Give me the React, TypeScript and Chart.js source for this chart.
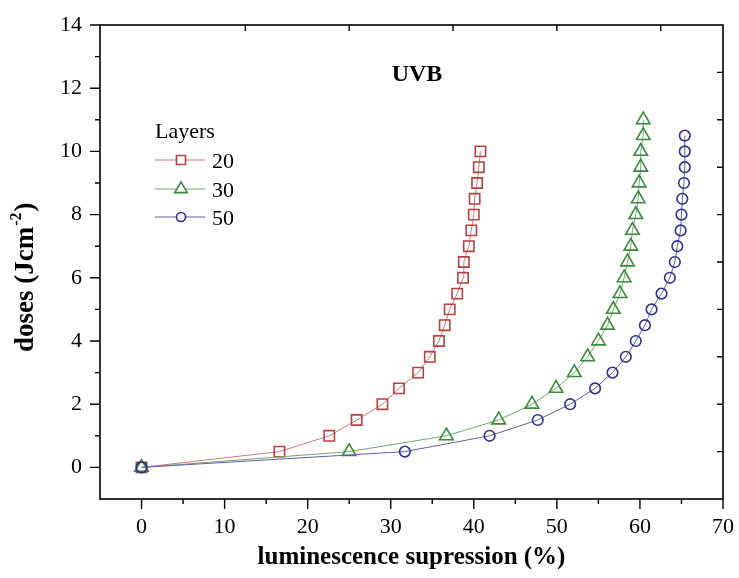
import React, { useEffect, useRef } from "react";
import { Chart, registerables } from "chart.js";

Chart.register(...registerables);

// ---- data ----
const layer20Supp = [0, 16.6, 22.6, 25.9, 29.0, 31.0, 33.3, 34.7, 35.8, 36.5, 37.1, 38.0, 38.7, 38.8, 39.4, 39.7, 40.0, 40.1, 40.4, 40.6, 40.8];
const layer20Dose = [0, 0.5, 1.0, 1.5, 2.0, 2.5, 3.0, 3.5, 4.0, 4.5, 5.0, 5.5, 6.0, 6.5, 7.0, 7.5, 8.0, 8.5, 9.0, 9.5, 10.0];

const layer30Supp = [0, 25.0, 36.7, 43.0, 47.0, 49.9, 52.1, 53.7, 55.0, 56.1, 56.8, 57.6, 58.1, 58.5, 58.9, 59.1, 59.5, 59.8, 59.9, 60.1, 60.1, 60.4, 60.4];
const layer30Dose = [0, 0.5, 1.0, 1.5, 2.0, 2.5, 3.0, 3.5, 4.0, 4.5, 5.0, 5.5, 6.0, 6.5, 7.0, 7.5, 8.0, 8.5, 9.0, 9.5, 10.0, 10.5, 11.0];

const layer50Supp = [0, 31.7, 41.9, 47.7, 51.6, 54.6, 56.7, 58.3, 59.5, 60.6, 61.4, 62.6, 63.6, 64.2, 64.5, 64.9, 65.0, 65.1, 65.3, 65.4, 65.4, 65.4];
const layer50Dose = [0, 0.5, 1.0, 1.5, 2.0, 2.5, 3.0, 3.5, 4.0, 4.5, 5.0, 5.5, 6.0, 6.5, 7.0, 7.5, 8.0, 8.5, 9.0, 9.5, 10.0, 10.5];

const seriesLabels = ["20", "30", "50"];
const legendTitle = "Layers";
const panelLabel = "UVB";
const xTitle = "luminescence supression (%)";
const yTitleMain = "doses (Jcm";
const yTitleSup = "-2";
const yTitleEnd = ")";

const xTickValues = [0, 10, 20, 30, 40, 50, 60, 70];
const yTickValues = [0, 2, 4, 6, 8, 10, 12, 14];
const bottomTickValues = [0, 5, 10, 15, 20, 25, 30, 35, 40, 45, 50, 55, 60, 65, 70];
const leftTickValues = [0, 1, 2, 3, 4, 5, 6, 7, 8, 9, 10, 11, 12, 13, 14];
const rightTickValues = [0.5, 2, 3.5, 5, 6.5, 8, 9.5, 11, 12.5];
const topTickValues = [12.5, 25, 37.5, 50, 62.5];

// ---- styles ----
const markerColors = ["#b84040", "#3a8a3a", "#30308a"];
const lineColors = ["#cc7a7a", "#70a870", "#60609e"];
const pointStyles = ["rect", "triangle", "circle"];
const pointRadii = [7.3, 7.8, 5.3];

const SERIF = '"Liberation Serif", "Times New Roman", serif';

function toPoints(xs: number[], ys: number[]) {
  return xs.map((x, i) => ({ x, y: ys[i] }));
}

function drawMarker(ctx: CanvasRenderingContext2D, style: string, x: number, y: number, size: number) {
  ctx.beginPath();
  if (style === "rect") {
    ctx.rect(x - size, y - size, size * 2, size * 2);
  } else if (style === "triangle") {
    const r = size * 1.6;
    ctx.moveTo(x, y - r);
    ctx.lineTo(x + r * 0.866, y + r * 0.5);
    ctx.lineTo(x - r * 0.866, y + r * 0.5);
    ctx.closePath();
  } else {
    ctx.arc(x, y, size, 0, Math.PI * 2);
  }
  ctx.fill();
  ctx.stroke();
}

const decorPlugin = {
  id: "decor",
  afterDraw(chart: any) {
    const { ctx, chartArea: a, scales } = chart;
    const xs = scales.x;
    const ys = scales.y;
    ctx.save();
    // frame
    ctx.strokeStyle = "#000";
    ctx.lineWidth = 1.6;
    ctx.strokeRect(a.left, a.top, a.right - a.left, a.bottom - a.top);

    ctx.lineWidth = 1.4;
    ctx.beginPath();
    leftTickValues.forEach((v) => {
      const y = ys.getPixelForValue(v);
      const len = v % 2 === 0 ? 10 : 5;
      ctx.moveTo(a.left - len, y);
      ctx.lineTo(a.left, y);
    });
    bottomTickValues.forEach((v) => {
      const x = xs.getPixelForValue(v);
      const len = v % 10 === 0 ? 10 : 5;
      ctx.moveTo(x, a.bottom);
      ctx.lineTo(x, a.bottom + len);
    });
    rightTickValues.forEach((v) => {
      const y = ys.getPixelForValue(v);
      ctx.moveTo(a.right, y);
      ctx.lineTo(a.right - 6, y);
    });
    topTickValues.forEach((v) => {
      const x = xs.getPixelForValue(v);
      ctx.moveTo(x, a.top);
      ctx.lineTo(x, a.top + 6);
    });
    ctx.stroke();

    // x title
    ctx.fillStyle = "#000";
    ctx.font = `bold 25px ${SERIF}`;
    ctx.textAlign = "center";
    ctx.textBaseline = "alphabetic";
    ctx.fillText(xTitle, (a.left + a.right) / 2, 564);

    // y title (rotated, with superscript)
    ctx.save();
    ctx.translate(33, 352);
    ctx.rotate(-Math.PI / 2);
    ctx.textAlign = "left";
    ctx.font = `bold 27px ${SERIF}`;
    ctx.fillText(yTitleMain, 0, 0);
    const w1 = ctx.measureText(yTitleMain).width;
    ctx.font = `bold 16px ${SERIF}`;
    ctx.fillText(yTitleSup, w1 + 1, -12);
    const w2 = ctx.measureText(yTitleSup).width;
    ctx.font = `bold 27px ${SERIF}`;
    ctx.fillText(yTitleEnd, w1 + w2 + 2, 0);
    ctx.restore();

    // panel label
    ctx.font = `bold 24px ${SERIF}`;
    ctx.textAlign = "center";
    ctx.fillText(panelLabel, 417, 81);

    // legend
    ctx.textAlign = "left";
    ctx.font = `22px ${SERIF}`;
    ctx.fillText(legendTitle, 155, 138);
    const rows = [160, 189, 217];
    seriesLabels.forEach((lab, i) => {
      const y = rows[i];
      ctx.strokeStyle = lineColors[i];
      ctx.lineWidth = 1.2;
      ctx.beginPath();
      ctx.moveTo(155, y);
      ctx.lineTo(205, y);
      ctx.stroke();
      ctx.strokeStyle = markerColors[i];
      ctx.fillStyle = "#fff";
      ctx.lineWidth = 1.6;
      drawMarker(ctx, pointStyles[i], 181, y, 4.5);
      ctx.fillStyle = "#000";
      ctx.fillText(lab, 212, y + 7.5);
    });
    ctx.restore();
  },
};

export default function App() {
  const ref = useRef<HTMLCanvasElement | null>(null);

  useEffect(() => {
    if (!ref.current) return;
    const series = [
      toPoints(layer20Supp, layer20Dose),
      toPoints(layer30Supp, layer30Dose),
      toPoints(layer50Supp, layer50Dose),
    ];
    const chart = new Chart(ref.current, {
      type: "line",
      data: {
        datasets: series.map((pts, i) => ({
          label: seriesLabels[i],
          data: pts,
          borderColor: lineColors[i],
          borderWidth: 1,
          tension: 0,
          fill: false,
          pointStyle: pointStyles[i] as any,
          pointRadius: pointRadii[i],
          pointBorderColor: markerColors[i],
          pointBackgroundColor: "rgba(255,255,255,0)",
          pointBorderWidth: 1.6,
          order: 3 - i,
        })),
      },
      options: {
        responsive: false,
        animation: false,
        events: [],
        layout: { padding: { top: 25, right: 13, left: 0, bottom: 0 } },
        plugins: {
          legend: { display: false },
          tooltip: { enabled: false },
          title: { display: false },
        },
        scales: {
          x: {
            type: "linear",
            position: "bottom",
            min: -5,
            max: 70,
            afterBuildTicks: (s: any) => {
              s.ticks = xTickValues.map((v) => ({ value: v }));
            },
            afterFit: (s: any) => {
              s.height = 79;
            },
            grid: {
              display: true,
              drawOnChartArea: false,
              drawTicks: true,
              tickLength: 10,
              color: "rgba(0,0,0,0)",
              tickColor: "rgba(0,0,0,0)",
            },
            border: { display: false },
            ticks: {
              color: "#000",
              font: { family: SERIF, size: 22 },
              padding: 5,
              maxRotation: 0,
              autoSkip: false,
            },
          },
          y: {
            type: "linear",
            position: "left",
            min: -1,
            max: 14,
            afterBuildTicks: (s: any) => {
              s.ticks = yTickValues.map((v) => ({ value: v }));
            },
            afterFit: (s: any) => {
              s.width = 100;
            },
            grid: {
              display: true,
              drawOnChartArea: false,
              drawTicks: true,
              tickLength: 10,
              color: "rgba(0,0,0,0)",
              tickColor: "rgba(0,0,0,0)",
            },
            border: { display: false },
            ticks: {
              color: "#000",
              font: { family: SERIF, size: 22 },
              padding: 8,
              autoSkip: false,
            },
          },
        },
      },
      plugins: [decorPlugin],
    } as any);
    return () => chart.destroy();
  }, []);

  return (
    <div style={{ position: "fixed", left: 0, top: 0, width: 739, height: 578, background: "#fff" }}>
      <canvas ref={ref} width={739} height={578} style={{ width: 739, height: 578, display: "block" }} />
    </div>
  );
}
